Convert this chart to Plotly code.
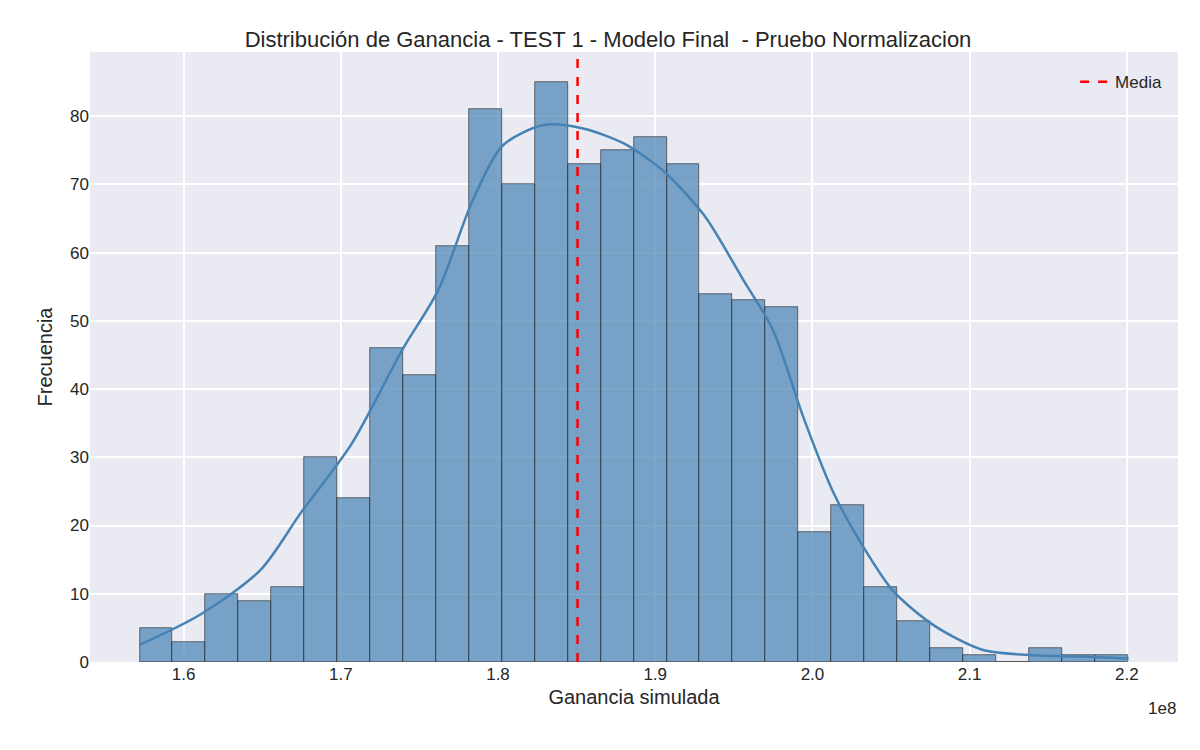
import plotly.graph_objects as go

# Histogram (x in units of 1e8)
BIN_START = 1.572
BIN_WIDTH = 0.02095
COUNTS = [5, 3, 10, 9, 11, 30, 24, 46, 42, 61,
          81, 70, 85, 73, 75, 77, 73, 54, 53, 52,
          19, 23, 11, 6, 2, 1, 0, 2, 1, 1]

# KDE curve
KDE_X = [1.572, 1.611, 1.649, 1.675, 1.707, 1.739, 1.762, 1.784, 1.803, 1.829,
         1.854, 1.880, 1.905, 1.931, 1.956, 1.975, 1.994, 2.013, 2.032, 2.051,
         2.077, 2.108, 2.140, 2.172, 2.201]
KDE_Y = [2.5, 7, 13.5, 22, 32, 45.7, 54.5, 67.7, 75.7, 78.7,
         78.2, 76, 72, 65.5, 56, 48.6, 36, 25, 17, 10.5,
         5.4, 1.8, 1.0, 0.8, 0.5]

MEAN = 1.8506
TICKS = [1.6, 1.7, 1.8, 1.9, 2.0, 2.1, 2.2]

centers = [BIN_START + BIN_WIDTH * (i + 0.5) for i in range(len(COUNTS))]

fig = go.Figure()
fig.add_trace(go.Bar(
    x=centers, y=COUNTS, width=BIN_WIDTH,
    marker=dict(color="rgba(70,130,180,0.7)", line=dict(color="#222", width=0.6)),
    showlegend=False,
))
fig.add_trace(go.Scatter(
    x=KDE_X, y=KDE_Y, mode="lines",
    line=dict(color="#4682B4", width=2.5, shape="spline", smoothing=0.8),
    showlegend=False,
))
fig.add_trace(go.Scatter(
    x=[MEAN, MEAN], y=[0, 100], mode="lines", name="Media",
    line=dict(color="red", width=2.5, dash="dash"),
))

fig.update_layout(
    width=1200, height=750,
    title=dict(text="Distribución de Ganancia - TEST 1 - Modelo Final  - Pruebo Normalizacion",
               x=0.5, xanchor="center", y=0.968, font=dict(size=22, color="#262626")),
    font=dict(family="Liberation Sans, Arial", size=17, color="#262626"),
    paper_bgcolor="white", plot_bgcolor="#EAEAF2",
    margin=dict(l=82, r=30, t=44, b=96),
    bargap=0,
    legend=dict(x=0.99, y=0.98, xanchor="right", yanchor="top",
                bgcolor="rgba(0,0,0,0)", font=dict(size=17)),
    xaxis=dict(range=[1.5405, 2.2325], tickvals=TICKS, ticktext=[f"{t:.1f}" for t in TICKS],
               showgrid=True, gridcolor="white", gridwidth=1.5, zeroline=False,
               title=dict(text="Ganancia simulada", font=dict(size=20), standoff=6)),
    yaxis=dict(range=[0, 89.4], tickvals=[0, 10, 20, 30, 40, 50, 60, 70, 80],
               showgrid=True, gridcolor="white", gridwidth=1.5, zeroline=False,
               title=dict(text="Frecuencia", font=dict(size=20), standoff=12)),
    annotations=[dict(text="1e8", xref="paper", yref="paper", x=1.0, y=-0.058,
                      xanchor="right", yanchor="top", showarrow=False, font=dict(size=17))],
)

fig.write_html("out.html")
